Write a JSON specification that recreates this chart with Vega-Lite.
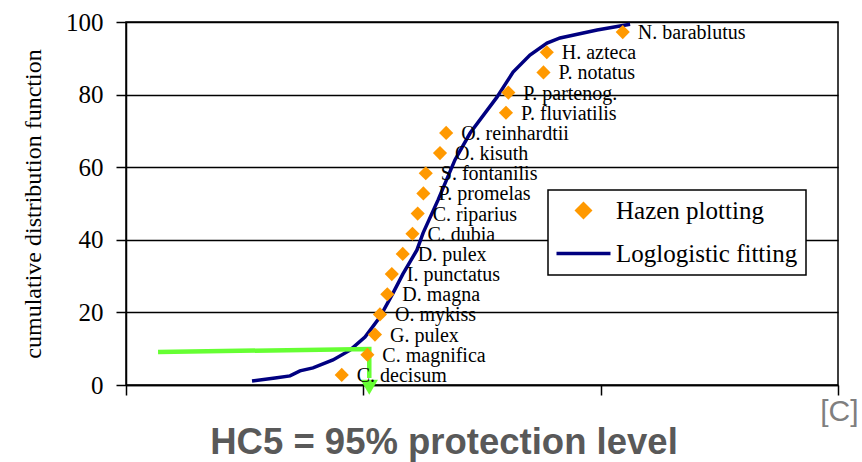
{
  "$schema": "https://vega.github.io/schema/vega-lite/v6.json",
  "width": 712,
  "height": 363,
  "autosize": "none",
  "padding": {"left": 126, "top": 22, "right": 24, "bottom": 77},
  "background": "white",
  "title": {
    "text": "HC5 = 95% protection level",
    "orient": "bottom",
    "anchor": "middle",
    "dx": -38,
    "offset": 28,
    "baseline": "alphabetic",
    "font": "Liberation Sans",
    "fontSize": 36.5,
    "fontWeight": "bold",
    "color": "#595959"
  },
  "datasets": {
    "pts": [
      {"sp": "C. decisum", "x": 0.909, "y": 2.78, "series": "Hazen plotting"},
      {"sp": "C. magnifica", "x": 1.017, "y": 8.33, "series": "Hazen plotting"},
      {"sp": "G. pulex", "x": 1.049, "y": 13.89, "series": "Hazen plotting"},
      {"sp": "O. mykiss", "x": 1.07, "y": 19.44, "series": "Hazen plotting"},
      {"sp": "D. magna", "x": 1.101, "y": 25.0, "series": "Hazen plotting"},
      {"sp": "I. punctatus", "x": 1.12, "y": 30.56, "series": "Hazen plotting"},
      {"sp": "D. pulex", "x": 1.166, "y": 36.11, "series": "Hazen plotting"},
      {"sp": "C. dubia", "x": 1.207, "y": 41.67, "series": "Hazen plotting"},
      {"sp": "C. riparius", "x": 1.229, "y": 47.22, "series": "Hazen plotting"},
      {"sp": "P. promelas", "x": 1.253, "y": 52.78, "series": "Hazen plotting"},
      {"sp": "S. fontanilis", "x": 1.263, "y": 58.33, "series": "Hazen plotting"},
      {"sp": "O. kisuth", "x": 1.323, "y": 63.89, "series": "Hazen plotting"},
      {"sp": "O. reinhardtii", "x": 1.349, "y": 69.44, "series": "Hazen plotting"},
      {"sp": "P. fluviatilis", "x": 1.601, "y": 75.0, "series": "Hazen plotting"},
      {"sp": "P. partenog.", "x": 1.611, "y": 80.56, "series": "Hazen plotting"},
      {"sp": "P. notatus", "x": 1.759, "y": 86.11, "series": "Hazen plotting"},
      {"sp": "H. azteca", "x": 1.773, "y": 91.67, "series": "Hazen plotting"},
      {"sp": "N. barablutus", "x": 2.093, "y": 97.22, "series": "Hazen plotting"}
    ],
    "fit": [
      {"x": 0.531, "y": 1.1, "series": "Loglogistic fitting"},
      {"x": 0.628, "y": 1.9, "series": "Loglogistic fitting"},
      {"x": 0.691, "y": 2.5, "series": "Loglogistic fitting"},
      {"x": 0.733, "y": 3.9, "series": "Loglogistic fitting"},
      {"x": 0.788, "y": 4.7, "series": "Loglogistic fitting"},
      {"x": 0.872, "y": 6.9, "series": "Loglogistic fitting"},
      {"x": 0.944, "y": 9.6, "series": "Loglogistic fitting"},
      {"x": 1.007, "y": 13.2, "series": "Loglogistic fitting"},
      {"x": 1.07, "y": 18.7, "series": "Loglogistic fitting"},
      {"x": 1.125, "y": 25.3, "series": "Loglogistic fitting"},
      {"x": 1.167, "y": 30.6, "series": "Loglogistic fitting"},
      {"x": 1.226, "y": 37.2, "series": "Loglogistic fitting"},
      {"x": 1.252, "y": 41.9, "series": "Loglogistic fitting"},
      {"x": 1.315, "y": 51.0, "series": "Loglogistic fitting"},
      {"x": 1.386, "y": 62.0, "series": "Loglogistic fitting"},
      {"x": 1.45, "y": 69.4, "series": "Loglogistic fitting"},
      {"x": 1.563, "y": 79.3, "series": "Loglogistic fitting"},
      {"x": 1.631, "y": 86.2, "series": "Loglogistic fitting"},
      {"x": 1.702, "y": 90.9, "series": "Loglogistic fitting"},
      {"x": 1.774, "y": 94.2, "series": "Loglogistic fitting"},
      {"x": 1.829, "y": 95.6, "series": "Loglogistic fitting"},
      {"x": 1.985, "y": 97.8, "series": "Loglogistic fitting"},
      {"x": 2.124, "y": 99.4, "series": "Loglogistic fitting"}
    ],
    "hc": [
      {"i": 1, "x": 0.135, "y": 9.1},
      {"i": 2, "x": 1.025, "y": 9.9},
      {"i": 3, "x": 1.025, "y": 1.9}
    ],
    "arrow": [
      {"x": 1.025, "y": -0.6}
    ]
  },
  "layer": [
    {
      "data": {"name": "fit"},
      "mark": {"type": "line", "strokeWidth": 3.5, "clip": false},
      "encoding": {
        "x": {
          "field": "x", "type": "quantitative",
          "scale": {"domain": [0, 3], "nice": false, "zero": false},
          "axis": {
            "title": "[C]",
            "values": [0, 1, 2, 3],
            "labels": false,
            "grid": false,
            "domainColor": "black",
            "domainWidth": 1.5,
            "tickColor": "black",
            "tickWidth": 1.5,
            "tickSize": 10,
            "titleFont": "Liberation Sans",
            "titleFontSize": 30,
            "titleFontWeight": "normal",
            "titleColor": "#7f7f7f",
            "titleAlign": "right",
            "titleAnchor": "end",
            "titleBaseline": "alphabetic",
            "titleX": 732,
            "titleY": 35
          }
        },
        "y": {
          "field": "y", "type": "quantitative",
          "scale": {"domain": [0, 100], "nice": false},
          "axis": {
            "title": "cumulative distribution function",
            "values": [0, 20, 40, 60, 80, 100],
            "grid": true,
            "gridColor": "black",
            "gridWidth": 1.5,
            "gridOpacity": 1,
            "domainColor": "black",
            "domainWidth": 1.5,
            "tickColor": "black",
            "tickWidth": 1.5,
            "tickSize": 10,
            "labelPadding": 13,
            "labelFont": "Liberation Serif",
            "labelFontSize": 25,
            "labelColor": "black",
            "titleFont": "Liberation Serif",
            "titleFontSize": 24,
            "titleFontWeight": "normal",
            "titleColor": "black",
            "titlePadding": 20
          }
        },
        "color": {
          "field": "series", "type": "nominal",
          "scale": {"domain": ["Hazen plotting", "Loglogistic fitting"], "range": ["#FF9900", "#000080"]},
          "legend": {
            "title": null,
            "strokeColor": "black",
            "encode": {
              "legend": {"update": {"stroke": {"value": "black"}, "strokeWidth": {"value": 1.5}}},
              "symbols": {
                "update": {
                  "stroke": {"signal": "datum.value === 'Loglogistic fitting' ? '#000080' : 'transparent'"},
                  "strokeWidth": {"value": 3.5},
                  "size": {"signal": "datum.value === 'Loglogistic fitting' ? 2916 : 170"}
                }
              }
            }
          }
        }
      }
    },
    {
      "data": {"name": "hc"},
      "mark": {"type": "line", "color": "#66FF33", "strokeWidth": 4.5, "clip": false},
      "encoding": {
        "x": {"field": "x", "type": "quantitative"},
        "y": {"field": "y", "type": "quantitative"},
        "order": {"field": "i", "type": "quantitative"}
      }
    },
    {
      "data": {"name": "arrow"},
      "mark": {"type": "point", "shape": "triangle-down", "filled": true, "color": "#66FF33", "size": 300, "opacity": 1, "clip": false},
      "encoding": {
        "x": {"field": "x", "type": "quantitative"},
        "y": {"field": "y", "type": "quantitative"}
      }
    },
    {
      "data": {"name": "pts"},
      "mark": {"type": "point", "filled": true, "opacity": 1, "size": 200},
      "encoding": {
        "x": {"field": "x", "type": "quantitative"},
        "y": {"field": "y", "type": "quantitative"},
        "color": {"field": "series", "type": "nominal"},
        "shape": {
          "field": "series", "type": "nominal",
          "scale": {"domain": ["Hazen plotting", "Loglogistic fitting"], "range": ["diamond", "stroke"]},
          "legend": {
            "title": null,
            "strokeColor": "black",
            "encode": {
              "legend": {"update": {"stroke": {"value": "black"}, "strokeWidth": {"value": 1.5}}},
              "symbols": {
                "update": {
                  "stroke": {"signal": "datum.value === 'Loglogistic fitting' ? '#000080' : 'transparent'"},
                  "strokeWidth": {"value": 3.5},
                  "size": {"signal": "datum.value === 'Loglogistic fitting' ? 2916 : 170"}
                }
              }
            }
          }
        }
      }
    },
    {
      "data": {"name": "pts"},
      "mark": {"type": "text", "align": "left", "baseline": "middle", "dx": 15, "dy": 1, "font": "Liberation Serif", "fontSize": 20, "color": "black"},
      "encoding": {
        "x": {"field": "x", "type": "quantitative"},
        "y": {"field": "y", "type": "quantitative"},
        "text": {"field": "sp", "type": "nominal"}
      }
    }
  ],
  "config": {
    "view": {"stroke": "black", "strokeWidth": 1.5},
    "legend": {
      "orient": "none",
      "legendX": 422,
      "legendY": 168,
      "strokeColor": "black",
      "fillColor": "white",
      "padding": 8,
      "symbolSize": 1800,
      "symbolOffset": 15,
      "labelOffset": 20,
      "labelFont": "Liberation Serif",
      "labelFontSize": 25,
      "labelColor": "black",
      "labelLimit": 400,
      "rowPadding": 16
    }
  }
}
